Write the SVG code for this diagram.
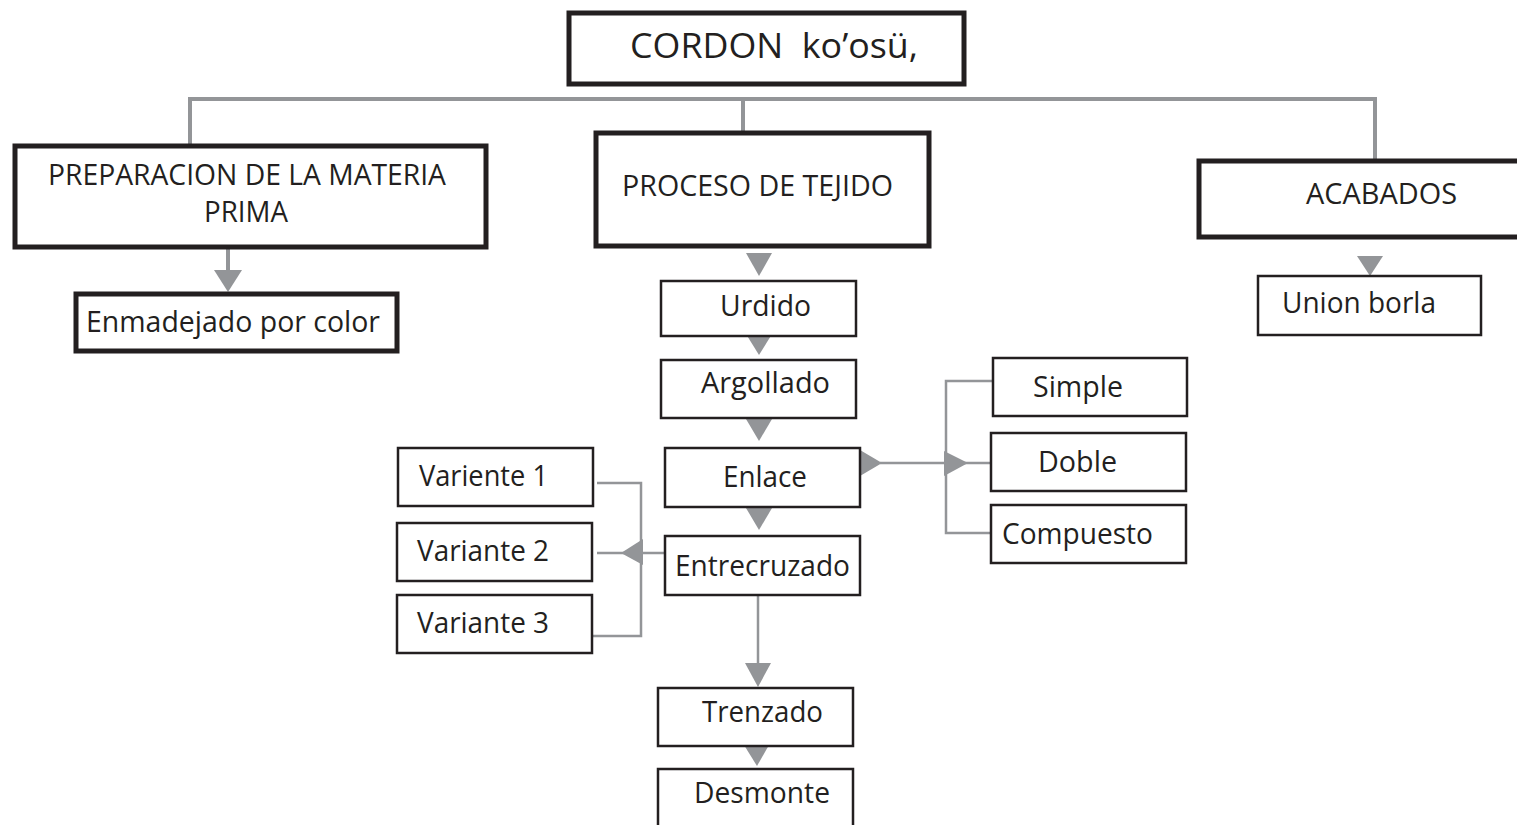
<svg xmlns="http://www.w3.org/2000/svg" width="1517" height="825" viewBox="0 0 1517 825">
<style>
.bx{fill:#fff;stroke:#231f20;stroke-width:2.5}
.bk{fill:#fff;stroke:#231f20;stroke-width:5}
.t{font-family:"Open Sans","Liberation Sans",sans-serif;font-size:29px;fill:#231f20}
.ln{fill:none;stroke:#939598;stroke-width:2.5}
.lk{fill:none;stroke:#939598;stroke-width:4}
.ar{fill:#939598}
</style>
<rect width="1517" height="825" fill="#fff"/>
<g id="connectors">
<path class="lk" d="M190 145 V99 H1375 V160 M743 99 V131"/>
<path class="lk" d="M228 248 V272"/>
<polygon class="ar" points="214,270 242,270 228,292"/>
<polygon class="ar" points="746,253 772,253 759,276"/>
<polygon class="ar" points="746,334 772,334 759,355"/>
<polygon class="ar" points="746,419 772,419 759,441"/>
<polygon class="ar" points="746,508 772,508 759,530"/>
<polygon class="ar" points="1357,256 1383,256 1370,276"/>
<path class="ln" d="M880 463 H990 M997 381 H946 V533 H991"/>
<polygon class="ar" points="860,450 860,476 882,463"/>
<polygon class="ar" points="944,451 944,476 968,463"/>
<path class="ln" d="M665 553 H597 M597 483 H641 V636 H591"/>
<polygon class="ar" points="643,539 643,565 621,553"/>
<path class="ln" d="M758 595 V665"/>
<polygon class="ar" points="745,663 771,663 758,687"/>
<polygon class="ar" points="744,745 769,745 757,766"/>
</g>
<g id="n-cordon"><rect class="bk" x="569" y="13" width="395" height="71"/><text class="t" x="630" y="58" style="font-size:35px" textLength="288" lengthAdjust="spacingAndGlyphs" xml:space="preserve">CORDON  ko’osü,</text></g>
<g id="n-prep"><rect class="bk" x="15" y="146" width="471" height="101"/><text class="t" x="48" y="185" style="font-size:30px" textLength="398" lengthAdjust="spacingAndGlyphs">PREPARACION DE LA MATERIA</text><text class="t" x="204" y="222" style="font-size:30px" textLength="84" lengthAdjust="spacingAndGlyphs">PRIMA</text></g>
<g id="n-proceso"><rect class="bk" x="596" y="133" width="333" height="113"/><text class="t" x="622" y="196" textLength="271" lengthAdjust="spacingAndGlyphs">PROCESO DE TEJIDO</text></g>
<g id="n-acabados"><rect class="bk" x="1199" y="161" width="330" height="76"/><text class="t" x="1306" y="204" textLength="151" lengthAdjust="spacingAndGlyphs">ACABADOS</text></g>
<g id="n-enmadejado"><rect class="bk" x="76" y="294" width="321" height="57"/><text class="t" x="86" y="332" style="font-size:30px" textLength="294" lengthAdjust="spacingAndGlyphs">Enmadejado por color</text></g>
<g id="n-urdido"><rect class="bx" x="661" y="281" width="195" height="55"/><text class="t" x="720" y="316" textLength="91" lengthAdjust="spacingAndGlyphs">Urdido</text></g>
<g id="n-argollado"><rect class="bx" x="661" y="360" width="195" height="58"/><text class="t" x="701" y="393" textLength="129" lengthAdjust="spacingAndGlyphs">Argollado</text></g>
<g id="n-enlace"><rect class="bx" x="665" y="448" width="195" height="59"/><text class="t" x="723" y="487" textLength="84" lengthAdjust="spacingAndGlyphs">Enlace</text></g>
<g id="n-entrecruzado"><rect class="bx" x="665" y="536" width="195" height="59"/><text class="t" x="675" y="576" textLength="175" lengthAdjust="spacingAndGlyphs">Entrecruzado</text></g>
<g id="n-simple"><rect class="bx" x="993" y="358" width="194" height="58"/><text class="t" x="1033" y="397" textLength="90" lengthAdjust="spacingAndGlyphs">Simple</text></g>
<g id="n-doble"><rect class="bx" x="991" y="433" width="195" height="58"/><text class="t" x="1038" y="472" textLength="79" lengthAdjust="spacingAndGlyphs">Doble</text></g>
<g id="n-compuesto"><rect class="bx" x="991" y="505" width="195" height="58"/><text class="t" x="1002" y="544" textLength="151" lengthAdjust="spacingAndGlyphs">Compuesto</text></g>
<g id="n-var1"><rect class="bx" x="398" y="448" width="195" height="58"/><text class="t" x="419" y="486" textLength="129" lengthAdjust="spacingAndGlyphs">Variente 1</text></g>
<g id="n-var2"><rect class="bx" x="397" y="523" width="195" height="58"/><text class="t" x="417" y="561" textLength="132" lengthAdjust="spacingAndGlyphs">Variante 2</text></g>
<g id="n-var3"><rect class="bx" x="397" y="595" width="195" height="58"/><text class="t" x="417" y="633" textLength="132" lengthAdjust="spacingAndGlyphs">Variante 3</text></g>
<g id="n-trenzado"><rect class="bx" x="658" y="688" width="195" height="58"/><text class="t" x="702" y="722" textLength="121" lengthAdjust="spacingAndGlyphs">Trenzado</text></g>
<g id="n-desmonte"><rect class="bx" x="658" y="769" width="195" height="70"/><text class="t" x="694" y="803" textLength="136" lengthAdjust="spacingAndGlyphs">Desmonte</text></g>
<g id="n-union"><rect class="bx" x="1258" y="276" width="223" height="59"/><text class="t" x="1282" y="313" textLength="154" lengthAdjust="spacingAndGlyphs">Union borla</text></g>
</svg>
